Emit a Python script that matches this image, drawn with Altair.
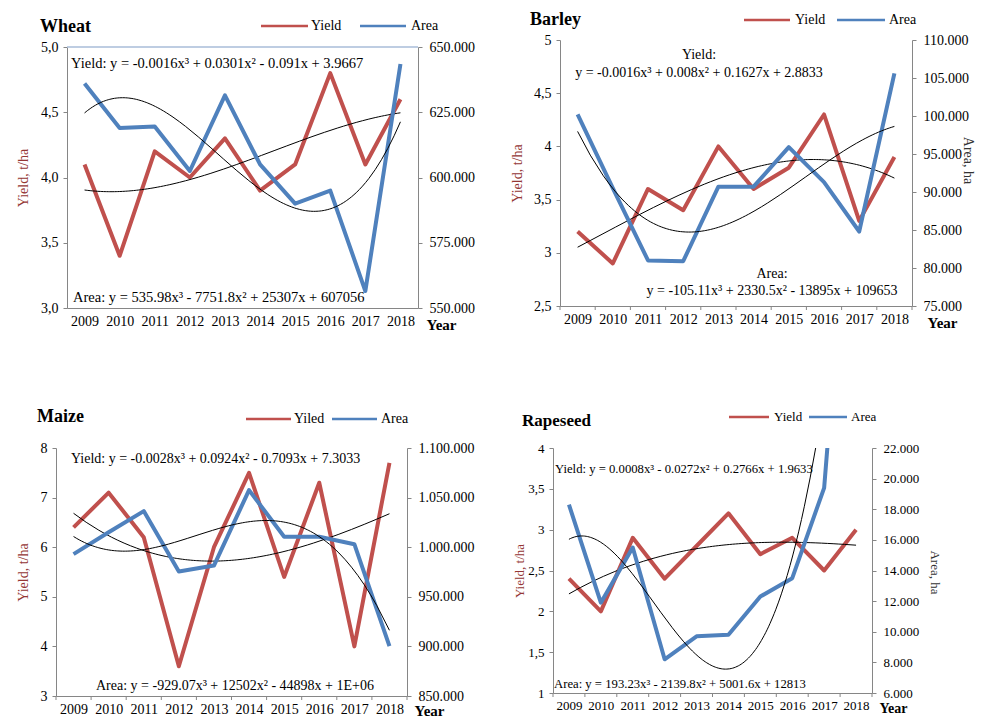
import altair as alt
import pandas as pd

years = list(range(2009, 2019))
year_bounds = [2008.5 + i for i in range(11)]

wheat_yield = [4.1, 3.4, 4.2, 4.0, 4.3, 3.9, 4.1, 4.8, 4.1, 4.6]
wheat_area = [636000, 619000, 619500, 602500, 631500, 605000, 590000, 595000, 556500, 643500]

barley_yield = [3.2, 2.9, 3.6, 3.4, 4.0, 3.6, 3.8, 4.3, 3.3, 3.9]
barley_area = [100200, 90500, 81000, 80900, 90700, 90700, 95900, 91300, 84800, 105600]

maize_yield = [6.4, 7.1, 6.2, 3.6, 6.0, 7.5, 5.4, 7.3, 4.0, 7.7]
maize_area = [993000, 1015000, 1036400, 975500, 981500, 1057500, 1010600, 1010600, 1003000, 900200]

rapeseed_yield = [2.4, 2.0, 2.9, 2.4, 2.8, 3.2, 2.7, 2.9, 2.5, 3.0]
rapeseed_area = [18300, 11900, 15500, 8200, 9700, 9800, 12300, 13500, 19400, 45400]

RED = "#C0504D"
BLUE = "#4F81BD"
GRAY = "#868686"
FRAME = "#a9bcd8"
FONT = "Liberation Serif"

AREA_FMT = "replace(format(datum.value, ','), regexp(',', 'g'), '.')"


def text_layer(txt, x, y, fs, align="left", weight="normal", color="black"):
    return alt.Chart(pd.DataFrame({"t": [txt]})).mark_text(
        align=align, baseline="middle", font=FONT, fontSize=fs,
        fontWeight=weight, color=color
    ).encode(text="t:N", x=alt.value(x), y=alt.value(y))


def key_line(x1, x2, y, color, sw=2.5):
    return alt.Chart(pd.DataFrame({"k": [0]})).mark_rule(
        color=color, strokeWidth=sw
    ).encode(x=alt.value(x1), x2=alt.value(x2), y=alt.value(y))


def panel(p):
    df = pd.DataFrame({"Year": years, "Yield": p["yield"], "Area": p["area"]})
    w, h, fs = p["w"], p["h"], p["fs"]
    xsc = alt.Scale(domain=[2008.5, 2018.5], nice=False, zero=False)
    xax = alt.Axis(values=years, format="d", ticks=False, grid=False,
                   domainColor=GRAY, labelFont=FONT, labelFontSize=fs,
                   labelColor="black", labelPadding=6, labelFlush=False,
                   title="Year", titleFont=FONT, titleFontSize=fs + 1,
                   titleFontWeight="bold", titleAngle=0, titleAlign="left",
                   titleBaseline="middle", titleX=w + p["yearx"],
                   titleY=p["yeary"], titleColor="black")
    x = alt.X("Year:Q", scale=xsc, axis=xax)

    ysc = alt.Scale(domain=p["ydom"], nice=False, zero=False)
    yax = alt.Axis(orient="left", values=p["yvals"], labelExpr=p["yfmt"],
                   grid=False, domainColor=GRAY, tickColor=GRAY, tickSize=4,
                   labelFont=FONT, labelFontSize=fs, labelColor="black",
                   labelPadding=5, title="Yield, t/ha", titleFont=FONT,
                   titleFontSize=fs, titleFontWeight="normal",
                   titleColor="#943634", titleBaseline="middle",
                   titleX=p["ytx"], titleY=h / 2, titleAngle=270)
    asc = alt.Scale(domain=p["adom"], nice=False, zero=False)
    akw = dict(orient="right", values=p["avals"], labelExpr=AREA_FMT,
               grid=False, domainColor=GRAY, tickColor=GRAY, tickSize=4,
               labelFont=FONT, labelFontSize=fs, labelColor="black",
               labelPadding=7)
    if p["atitle"]:
        akw.update(title="Area, ha", titleFont=FONT, titleFontSize=fs,
                   titleFontWeight="normal", titleColor="#333333",
                   titleBaseline="middle", titleX=p["atx"], titleY=p["aty"],
                   titleAngle=90)
    else:
        akw.update(title=None)
    aax = alt.Axis(**akw)

    base = alt.Chart(df)
    yline = base.mark_line(color=RED, strokeWidth=4, strokeJoin="round",
                           clip=True).encode(
        x=x, y=alt.Y("Yield:Q", scale=ysc, axis=yax))
    ytrend = base.transform_regression(
        "Year", "Yield", method="poly", order=3
    ).mark_line(color="black", strokeWidth=1, clip=True).encode(
        x=x, y=alt.Y("Yield:Q", scale=ysc, axis=yax))
    aline = base.mark_line(color=BLUE, strokeWidth=4, strokeJoin="round",
                           clip=True).encode(
        x=x, y=alt.Y("Area:Q", scale=asc, axis=aax))
    atrend = base.transform_regression(
        "Year", "Area", method="poly", order=3
    ).mark_line(color="black", strokeWidth=1, clip=True).encode(
        x=x, y=alt.Y("Area:Q", scale=asc, axis=aax))

    layers = []
    if p.get("frame"):
        layers.append(key_line(0, w, 0, FRAME, sw=1.5))
    layers += [alt.layer(yline, ytrend), alt.layer(aline, atrend)]
    for (txt, tx, ty, al) in p["eqs"]:
        layers.append(text_layer(txt, tx, ty, p["efs"], align=al))
    layers.append(text_layer(p["name"], p["titx"], p["tity"], fs + 4,
                             weight="bold"))
    lx = p["key"]
    ly = p["keyy"]
    layers.append(key_line(lx[0], lx[1], ly, RED))
    layers.append(text_layer(p["ylabel"], lx[2], ly, fs))
    layers.append(key_line(lx[3], lx[4], ly, BLUE))
    layers.append(text_layer("Area", lx[5], ly, fs))
    if p["xticks"]:
        layers.append(alt.Chart(pd.DataFrame({"Year": year_bounds})).mark_rule(
            color=GRAY).encode(x=x, y=alt.value(h), y2=alt.value(h + 4)))
    return alt.layer(*layers).resolve_scale(y="independent").properties(
        width=w, height=h)


wheat = panel(dict(
    name="Wheat", ylabel="Yield", **{"yield": wheat_yield}, area=wheat_area,
    w=351, h=261, fs=14, efs=14.5,
    ydom=[3, 5], yvals=[3, 3.5, 4, 4.5, 5],
    yfmt="replace(format(datum.value, '.1f'), '.', ',')",
    adom=[550000, 650000], avals=[550000, 575000, 600000, 625000, 650000],
    eqs=[("Yield: y = -0.0016x³ + 0.0301x² - 0.091x + 3.9667", 4, 17, "left"),
         ("Area: y = 535.98x³ - 7751.8x² + 25307x + 607056", 6, 251, "left")],
    titx=-27, tity=-20, key=[194, 241, 244, 293, 339, 344], keyy=-21,
    ytx=-44, atitle=False, yearx=8, yeary=16, xticks=False, frame=True))

barley = panel(dict(
    name="Barley", ylabel="Yield", **{"yield": barley_yield}, area=barley_area,
    w=352, h=266, fs=14, efs=14,
    ydom=[2.5, 5], yvals=[2.5, 3, 3.5, 4, 4.5, 5],
    yfmt="replace(format(datum.value, '~g'), '.', ',')",
    adom=[75000, 110000], avals=list(range(75000, 110001, 5000)),
    eqs=[("Yield:", 139, 15, "center"),
         ("y = -0.0016x³ + 0.008x² + 0.1627x + 2.8833", 139, 33, "center"),
         ("Area:", 212, 234, "center"),
         ("y = -105.11x³ + 2330.5x² - 13895x + 109653", 212, 251, "center")],
    titx=-30, tity=-20, key=[184, 230, 235, 277, 325, 329], keyy=-20,
    ytx=-43, atitle=True, atx=55, aty=120, yearx=15, yeary=16, xticks=True))

maize = panel(dict(
    name="Maize", ylabel="Yiled", **{"yield": maize_yield}, area=maize_area,
    w=351, h=248, fs=14, efs=14,
    ydom=[3, 8], yvals=[3, 4, 5, 6, 7, 8],
    yfmt="replace(format(datum.value, '~g'), '.', ',')",
    adom=[850000, 1100000], avals=list(range(850000, 1100001, 50000)),
    eqs=[("Yield: y = -0.0028x³ + 0.0924x² - 0.7093x + 7.3033", 15, 11, "left"),
         ("Area: y = -929.07x³ + 12502x² - 44898x + 1E+06", 40, 238, "left")],
    titx=-19, tity=-31, key=[190, 235, 238, 276, 321, 325], keyy=-29,
    ytx=-33, atitle=False, yearx=7, yeary=14, xticks=True))

rapeseed = panel(dict(
    name="Rapeseed", ylabel="Yield", **{"yield": rapeseed_yield}, area=rapeseed_area,
    w=319, h=245, fs=13, efs=12.7,
    ydom=[1, 4], yvals=[1, 1.5, 2, 2.5, 3, 3.5, 4],
    yfmt="replace(format(datum.value, '~g'), '.', ',')",
    adom=[6000, 22000], avals=list(range(6000, 22001, 2000)),
    eqs=[("Yield: y = 0.0008x³ - 0.0272x² + 0.2766x + 1.9633", 2, 21, "left"),
         ("Area: y = 193.23x³ - 2139.8x² + 5001.6x + 12813", 1, 236, "left")],
    titx=-31, tity=-27, key=[176, 216, 221, 256, 294, 298], keyy=-31,
    ytx=-34, atitle=True, atx=62, aty=124, yearx=7, yeary=15, xticks=True))


def spacer():
    return alt.Chart(pd.DataFrame({"s": [0]})).mark_point(
        size=0, opacity=0).encode(x=alt.value(0), y=alt.value(0)).properties(
        width=1, height=1)


# wheat sits a few pixels lower than barley in the original figure
wheat_col = alt.vconcat(spacer(), wheat, spacing=7)
barley_col = alt.vconcat(spacer(), barley, spacing=0)

top = alt.hconcat(spacer(), alt.hconcat(wheat_col, barley_col, spacing=34), spacing=0)
bottom = alt.hconcat(spacer(), alt.hconcat(maize, rapeseed, spacing=37), spacing=0)

chart = alt.vconcat(top, bottom, spacing=74).properties(
    padding={"left": 4, "top": -1, "right": 0, "bottom": 0}
).configure(font=FONT, background="white").configure_view(stroke="transparent")

chart.save("out.html", embed_options={"renderer": "svg", "actions": False})
